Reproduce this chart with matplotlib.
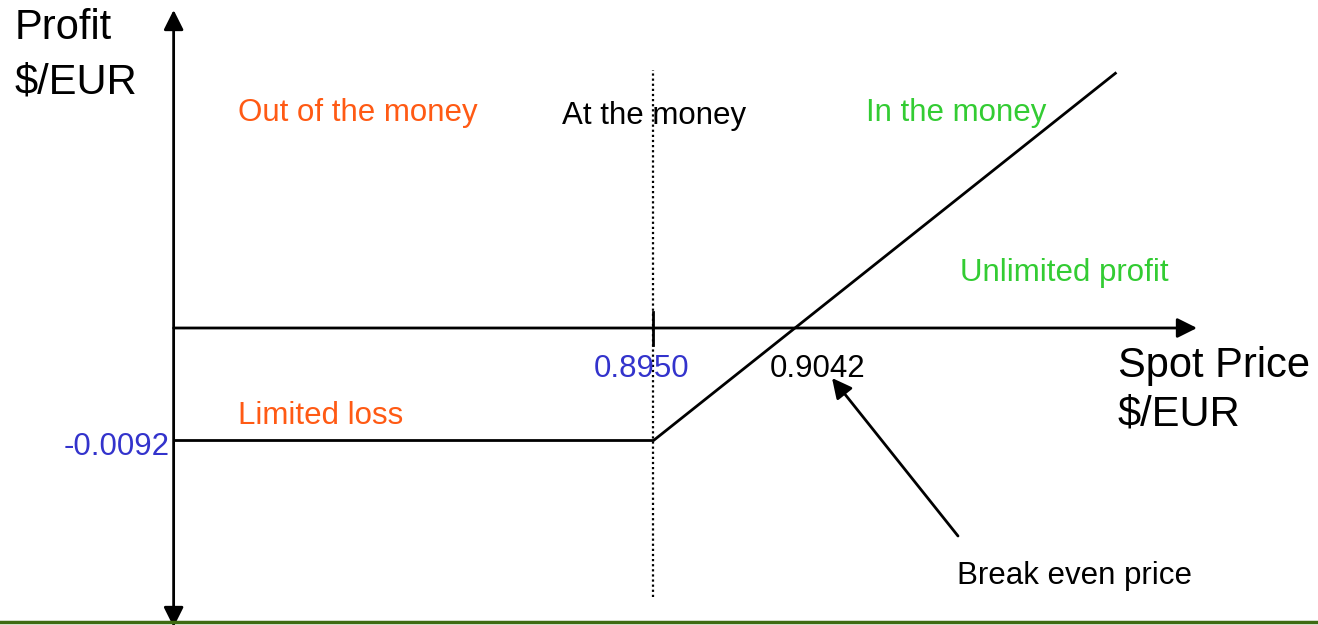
import numpy as np
import matplotlib.pyplot as plt

plt.rcParams['font.family'] = ['Liberation Sans', 'DejaVu Sans']

# option data
strike = 0.8950
premium = 0.0092
breakeven = 0.9042
spot = [0.8638, 0.8950, 0.9251]
profit = [-0.0092, -0.0092, 0.0209]
tick_labels = ['0.8950', '-0.0092', '0.9042']

W, H = 1318, 625
# pixel <-> data mapping of the reference picture
px_strike, px_per_x = 653.5, 141.5 / 0.0092
py_zero, px_per_y = 328.0, 112.5 / 0.0092

def dx(px):
    return strike + (px - px_strike) / px_per_x

def dy(py):
    return (py_zero - py) / px_per_y

def fx(px):
    return px / W

def fy(py):
    return 1 - py / H

ORANGE = '#ff5a14'
GREEN = '#33cc33'
BLUE = '#3333cc'

fig = plt.figure(figsize=(W / 100, H / 100), dpi=100)
ax = fig.add_axes([0, 0, 1, 1])
ax.set_xlim(dx(0), dx(W))
ax.set_ylim(dy(H), dy(0))
ax.set_axis_off()

y_axis_x = spot[0]
head = '<|-|>,head_length=0.6,head_width=0.3'

# vertical axis (arrows both ends)
ax.annotate('', xy=(y_axis_x, dy(10)), xytext=(y_axis_x, dy(627)),
            arrowprops=dict(arrowstyle=head, mutation_scale=20, lw=2,
                            color='black', shrinkA=0, shrinkB=0))
# horizontal axis
ax.annotate('', xy=(dx(1197), 0), xytext=(y_axis_x, 0),
            arrowprops=dict(arrowstyle='-|>,head_length=0.6,head_width=0.3',
                            mutation_scale=20, lw=2, color='black',
                            shrinkA=0, shrinkB=0))

# payoff line
ax.plot(spot, profit, color='black', lw=2, solid_capstyle='butt', zorder=3)

# at the money dotted line + tick
ax.plot([strike, strike], [dy(597), dy(70)], color='black', lw=1.6,
        linestyle=(0, (1, 1.3)))
ax.plot([strike, strike], [dy(312), dy(345)], color='black', lw=2)

# green bottom rule
ax.plot([dx(0), dx(W)], [dy(622), dy(622)], color='#3e6b12', lw=2.5,
        clip_on=False, zorder=4)

# axis titles
ax.text(fx(15), fy(39), 'Profit', transform=ax.transAxes, fontsize=30,
        va='baseline', ha='left')
ax.text(fx(15), fy(93), '$/EUR', transform=ax.transAxes, fontsize=30,
        va='baseline', ha='left')
ax.text(fx(1118), fy(377), 'Spot Price', transform=ax.transAxes, fontsize=30,
        va='baseline', ha='left')
ax.text(fx(1118), fy(425), '$/EUR', transform=ax.transAxes, fontsize=30,
        va='baseline', ha='left')

# value labels
ax.text(fx(594), fy(377), tick_labels[0], transform=ax.transAxes, fontsize=22.5,
        color=BLUE, va='baseline', ha='left')
ax.text(fx(170), fy(455), tick_labels[1], transform=ax.transAxes, fontsize=22.5,
        color=BLUE, va='baseline', ha='right')
ax.text(fx(770), fy(377), tick_labels[2], transform=ax.transAxes, fontsize=22.5,
        color='black', va='baseline', ha='left')

# region labels
ax.text(fx(238), fy(121), 'Out of the money', transform=ax.transAxes,
        fontsize=22.5, color=ORANGE, va='baseline')
ax.text(fx(562), fy(124), 'At the money', transform=ax.transAxes,
        fontsize=22.5, color='black', va='baseline')
ax.text(fx(866), fy(121), 'In the money', transform=ax.transAxes,
        fontsize=22.5, color=GREEN, va='baseline')
ax.text(fx(960), fy(281), 'Unlimited profit', transform=ax.transAxes,
        fontsize=22.5, color=GREEN, va='baseline')
ax.text(fx(238), fy(424), 'Limited loss', transform=ax.transAxes,
        fontsize=22.5, color=ORANGE, va='baseline')
ax.text(fx(957), fy(584), 'Break even price', transform=ax.transAxes,
        fontsize=22.5, color='black', va='baseline')

# break even arrow
ax.annotate('', xy=(dx(832), dy(378)), xytext=(dx(958), dy(536)),
            arrowprops=dict(arrowstyle='-|>,head_length=0.6,head_width=0.3',
                            mutation_scale=20, lw=2, color='black',
                            shrinkA=0, shrinkB=0))

fig.savefig('out.png', dpi=100)
